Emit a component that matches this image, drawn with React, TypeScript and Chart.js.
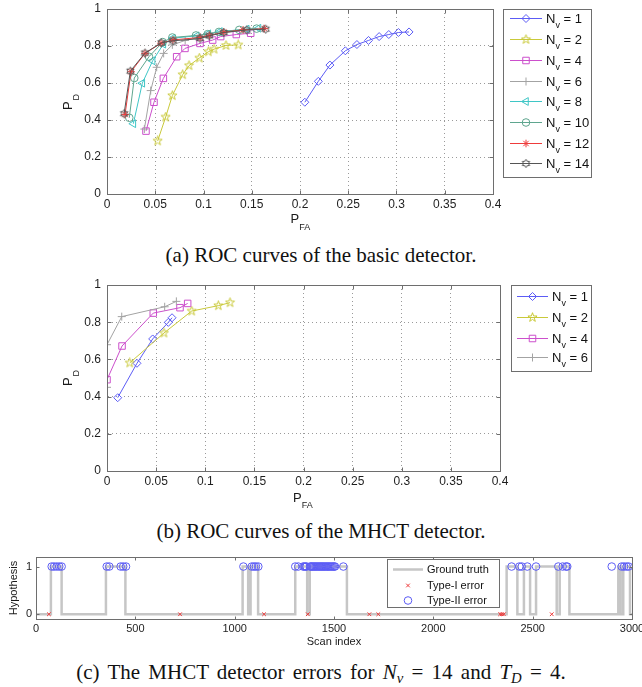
import React, { useEffect, useRef } from 'react';
import { Chart, registerables } from 'chart.js';
import { drawPoint } from 'chart.js/helpers';

Chart.register(...registerables);

const FONT = '"Liberation Sans", Arial, Helvetica, sans-serif';

// ===== (a) ROC curves of the basic detector =====
const basicNv = [1, 2, 4, 6, 8, 10, 12, 14];
const basicPfaN1 = [0.205, 0.219, 0.231, 0.247, 0.259, 0.271, 0.282, 0.292, 0.302, 0.313];
const basicPdN1 = [0.496, 0.609, 0.697, 0.774, 0.808, 0.83, 0.851, 0.862, 0.873, 0.876];
const basicPfaN2 = [0.0525, 0.0608, 0.0677, 0.0784, 0.085, 0.0957, 0.105, 0.111, 0.1233, 0.136];
const basicPdN2 = [0.287, 0.416, 0.532, 0.645, 0.694, 0.735, 0.769, 0.783, 0.803, 0.806];
const basicPfaN4 = [0.0404, 0.0487, 0.0584, 0.0722, 0.0808, 0.0964, 0.1095, 0.1178, 0.134, 0.1489];
const basicPdN4 = [0.34, 0.496, 0.625, 0.742, 0.787, 0.814, 0.832, 0.851, 0.862, 0.869];
const basicPfaN6 = [0.0387, 0.0453, 0.0515, 0.0587, 0.0677, 0.081, 0.097, 0.121, 0.145, 0.162];
const basicPdN6 = [0.351, 0.559, 0.685, 0.76, 0.806, 0.83, 0.848, 0.871, 0.887, 0.893];
const basicPfaN8 = [0.0273, 0.0366, 0.0473, 0.0584, 0.068, 0.093, 0.105, 0.117, 0.1448, 0.157];
const basicPdN8 = [0.38, 0.599, 0.72, 0.81, 0.842, 0.855, 0.866, 0.878, 0.891, 0.896];
const basicPfaN10 = [0.0231, 0.0283, 0.0435, 0.0577, 0.0677, 0.0922, 0.1043, 0.116, 0.137, 0.155];
const basicPdN10 = [0.412, 0.627, 0.742, 0.821, 0.846, 0.857, 0.864, 0.876, 0.887, 0.894];
const basicPfaN12 = [0.0187, 0.0249, 0.0394, 0.056, 0.0684, 0.0964, 0.106, 0.121, 0.141, 0.163];
const basicPdN12 = [0.43, 0.661, 0.76, 0.815, 0.833, 0.846, 0.857, 0.875, 0.887, 0.894];
const basicPfaN14 = [0.0177, 0.0242, 0.0394, 0.0563, 0.0684, 0.0964, 0.106, 0.121, 0.1448, 0.1645];
const basicPdN14 = [0.434, 0.664, 0.762, 0.817, 0.828, 0.84, 0.855, 0.873, 0.887, 0.891];

// ===== (b) ROC curves of the MHCT detector =====
const mhctNv = [1, 2, 4, 6];
const mhctPfaN1 = [0.0109, 0.0305, 0.0465, 0.0624, 0.0662];
const mhctPdN1 = [0.394, 0.579, 0.71, 0.799, 0.824];
const mhctPfaN2 = [0.0231, 0.058, 0.0862, 0.1133, 0.1252];
const mhctPdN2 = [0.581, 0.742, 0.86, 0.889, 0.905];
const mhctPfaN4 = [0, 0.0153, 0.0471, 0.0743, 0.0821];
const mhctPdN4 = [0.491, 0.672, 0.849, 0.878, 0.901];
const mhctPfaN6 = [0, 0, 0.015, 0.0587, 0.0706];
const mhctPdN6 = [0.45, 0.679, 0.83, 0.883, 0.912];

const rocXTicks = [0, 0.05, 0.1, 0.15, 0.2, 0.25, 0.3, 0.35, 0.4];
const rocYTicks = [0, 0.2, 0.4, 0.6, 0.8, 1];

// ===== (c) MHCT detector errors =====
const scanTicks = [0, 500, 1000, 1500, 2000, 2500, 3000];
const hypothesisTicks = [0, 1];
const truthScan = [0, 75, 129, 352, 450, 1040, 1068, 1080, 1118, 1305, 1365, 1378, 1565, 2369, 2423, 2456, 2487, 2517, 2621, 2636, 2685, 2931, 2943, 2956, 2990, 3000];
const truthLevel = [0, 1, 0, 1, 0, 1, 0, 1, 0, 1, 0, 1, 0, 1, 0, 1, 0, 1, 0, 1, 0, 1, 0, 1, 0, 0];
const typeIScan = [65, 725, 1148, 1368, 1678, 1723, 2336, 2345, 2355, 2596];
const typeIIScan = [79, 91, 104, 117, 129, 356, 369, 426, 439, 453, 1044, 1086, 1097, 1107, 1119, 1305, 1320,
  1345, 1351, 1357, 1362, 1380, 1385, 1390, 1396, 1401, 1407, 1412, 1418, 1424, 1430, 1436, 1441, 1447, 1452,
  1458, 1464, 1470, 1476, 1482, 1488, 1494, 1500, 1505, 1547, 2394, 2433, 2445, 2473, 2517, 2629, 2651, 2668,
  2674, 2898, 2948, 2960, 2973, 2983];

// ===== styles =====
const basicColors = ['#5c5cf5', '#c9c93a', '#cc4fcc', '#a3a3a3', '#3fc6c6', '#5fa68f', '#ee3b3b', '#555555'];
const basicMarkers = ['diamond', 'pentagram', 'square', 'plus', 'triangleLeft', 'circle', 'asterisk', 'hexagram'];
const mhctColors = ['#5c5cf5', '#c9c93a', '#cc4fcc', '#a3a3a3'];
const mhctMarkers = ['diamond', 'pentagram', 'square', 'plus'];
const BOX = '#6e6e6e';
const GRID = '#9a9a9a';

function starImage(n: number, innerRatio: number, color: string, R: number) {
  const c = document.createElement('canvas');
  c.width = 11;
  c.height = 11;
  const ctx = c.getContext('2d')!;
  ctx.strokeStyle = color;
  ctx.lineWidth = 1;
  ctx.beginPath();
  for (let k = 0; k < 2 * n; k++) {
    const a = -Math.PI / 2 + (k * Math.PI) / n;
    const rr = k % 2 === 0 ? R : R * innerRatio;
    const x = 5.5 + rr * Math.cos(a);
    const y = 5.5 + rr * Math.sin(a);
    if (k === 0) ctx.moveTo(x, y);
    else ctx.lineTo(x, y);
  }
  ctx.closePath();
  ctx.stroke();
  return c;
}

function marker(name: string, color: string): any {
  switch (name) {
    case 'diamond': return { pointStyle: 'rectRot', rotation: 0, radius: 4 };
    case 'pentagram': return { pointStyle: starImage(5, 0.4, color, 4.8), rotation: 0, radius: 4 };
    case 'hexagram': return { pointStyle: starImage(6, 0.58, color, 4.2), rotation: 0, radius: 4 };
    case 'square': return { pointStyle: 'rect', rotation: 0, radius: 4.6 };
    case 'plus': return { pointStyle: 'cross', rotation: 0, radius: 4 };
    case 'triangleLeft': return { pointStyle: 'triangle', rotation: -90, radius: 4.5 };
    case 'circle': return { pointStyle: 'circle', rotation: 0, radius: 3.8 };
    case 'asterisk': return { pointStyle: 'star', rotation: 0, radius: 3.8 };
    case 'x': return { pointStyle: 'crossRot', rotation: 0, radius: 2.6 };
    default: return { pointStyle: 'circle', rotation: 0, radius: 3 };
  }
}

function pairs(xs: number[], ys: number[]) {
  return xs.map((x, i) => ({ x, y: ys[i] }));
}

function fmt(v: number) {
  return String(+Number(v).toFixed(2));
}

type TitleSpec = { x: number; y: number; rot: boolean; main: string; sub?: string; size: number; subSize?: number; subDx?: number; subDy?: number; align?: CanvasTextAlign };
type LegendRow = { label: string; sub?: string; rest?: string; color: string; line: boolean; lineWidth?: number; mk?: any };
type LegendSpec = { x0: number; y0: number; x1: number; y1: number; rows: LegendRow[]; rowY: number[]; lineX1: number; lineX2: number; markX: number; textX: number; size: number; subSize: number };

function makeDecor(cfg: { xTicks: number[]; yTicks: number[]; titles: TitleSpec[]; legend: LegendSpec; tickLen: number }) {
  return {
    id: 'decor',
    afterDraw(chart: any) {
      const ctx: CanvasRenderingContext2D = chart.ctx;
      const a = chart.chartArea;
      const xs = chart.scales.x;
      const ys = chart.scales.y;
      ctx.save();
      ctx.setLineDash([]);
      ctx.strokeStyle = BOX;
      ctx.lineWidth = 1;
      const L = Math.round(a.left) + 0.5, T = Math.round(a.top) + 0.5, R = Math.round(a.right) + 0.5, B = Math.round(a.bottom) + 0.5;
      ctx.strokeRect(L, T, R - L, B - T);
      ctx.beginPath();
      for (const t of cfg.xTicks) {
        const px = Math.round(xs.getPixelForValue(t)) + 0.5;
        ctx.moveTo(px, B); ctx.lineTo(px, B - cfg.tickLen);
        ctx.moveTo(px, T); ctx.lineTo(px, T + cfg.tickLen);
      }
      for (const t of cfg.yTicks) {
        const py = Math.round(ys.getPixelForValue(t)) + 0.5;
        ctx.moveTo(L, py); ctx.lineTo(L + cfg.tickLen, py);
        ctx.moveTo(R, py); ctx.lineTo(R - cfg.tickLen, py);
      }
      ctx.stroke();

      // axis titles
      ctx.fillStyle = '#1a1a1a';
      ctx.textBaseline = 'alphabetic';
      for (const t of cfg.titles) {
        ctx.save();
        ctx.translate(t.x, t.y);
        if (t.rot) ctx.rotate(-Math.PI / 2);
        ctx.textAlign = t.align || 'left';
        ctx.font = `${t.size}px ${FONT}`;
        ctx.fillText(t.main, 0, 0);
        if (t.sub) {
          ctx.font = `${t.subSize}px ${FONT}`;
          ctx.textAlign = 'left';
          ctx.fillText(t.sub, t.subDx || 0, t.subDy || 0);
        }
        ctx.restore();
      }

      // legend
      const lg = cfg.legend;
      ctx.fillStyle = '#ffffff';
      ctx.fillRect(lg.x0, lg.y0, lg.x1 - lg.x0, lg.y1 - lg.y0);
      ctx.strokeStyle = BOX;
      ctx.lineWidth = 1;
      ctx.strokeRect(lg.x0 + 0.5, lg.y0 + 0.5, lg.x1 - lg.x0, lg.y1 - lg.y0);
      lg.rows.forEach((row, i) => {
        const y = lg.rowY[i];
        ctx.strokeStyle = row.color;
        if (row.line) {
          ctx.lineWidth = row.lineWidth || 1;
          ctx.beginPath();
          ctx.moveTo(lg.lineX1, y + 0.5);
          ctx.lineTo(lg.lineX2, y + 0.5);
          ctx.stroke();
        }
        if (row.mk) {
          ctx.lineWidth = 1;
          ctx.fillStyle = 'rgba(0,0,0,0)';
          drawPoint(ctx, { pointStyle: row.mk.pointStyle, rotation: row.mk.rotation, radius: row.mk.radius, borderWidth: 1 } as any, lg.markX, y + 0.5);
        }
        ctx.fillStyle = '#111111';
        ctx.textAlign = 'left';
        ctx.textBaseline = 'alphabetic';
        let x = lg.textX;
        const base = y + Math.round(lg.size * 0.36);
        ctx.font = `${lg.size}px ${FONT}`;
        ctx.fillText(row.label, x, base);
        x += ctx.measureText(row.label).width;
        if (row.sub) {
          ctx.font = `${lg.subSize}px ${FONT}`;
          ctx.fillText(row.sub, x, base + 5);
          x += ctx.measureText(row.sub).width;
        }
        if (row.rest) {
          ctx.font = `${lg.size}px ${FONT}`;
          ctx.fillText(row.rest, x, base);
        }
      });
      ctx.restore();
    },
  };
}

function rocConfig(opts: {
  nv: number[]; pfa: number[][]; pd: number[][]; colors: string[]; markers: string[];
  height: number; top: number; bottom: number; left: number; right: number;
  titles: TitleSpec[]; legendBox: number[]; rowY: number[]; lineX: number[]; textX: number;
}) {
  const mks = opts.markers.map((m, i) => marker(m, opts.colors[i]));
  const datasets = opts.nv.map((n, i) => ({
    label: `N_v = ${n}`,
    data: pairs(opts.pfa[i], opts.pd[i]),
    showLine: true,
    borderColor: opts.colors[i],
    borderWidth: 1,
    pointStyle: mks[i].pointStyle,
    pointRotation: mks[i].rotation,
    pointRadius: mks[i].radius,
    pointBorderColor: opts.colors[i],
    pointBackgroundColor: 'rgba(0,0,0,0)',
    pointBorderWidth: 1,
    order: -i,
  }));
  const legend: LegendSpec = {
    x0: opts.legendBox[0], y0: opts.legendBox[1], x1: opts.legendBox[2], y1: opts.legendBox[3],
    rows: opts.nv.map((n, i) => ({ label: 'N', sub: 'v', rest: ` = ${n}`, color: opts.colors[i], line: true, mk: mks[i] })),
    rowY: opts.rowY, lineX1: opts.lineX[0], lineX2: opts.lineX[1], markX: (opts.lineX[0] + opts.lineX[1]) / 2,
    textX: opts.textX, size: 13, subSize: 9,
  };
  return {
    type: 'scatter',
    data: { datasets },
    options: {
      animation: false,
      responsive: false,
      maintainAspectRatio: false,
      events: [],
      layout: { padding: { left: 0, top: opts.top, right: 642 - opts.right, bottom: 0 } },
      plugins: { legend: { display: false }, tooltip: { enabled: false } },
      scales: {
        x: {
          type: 'linear', min: 0, max: 0.4,
          afterBuildTicks: (s: any) => { s.ticks = rocXTicks.map((v) => ({ value: v })); },
          afterFit: (s: any) => { s.height = opts.height - opts.bottom; s.paddingLeft = 0; s.paddingRight = 0; },
          ticks: { callback: (v: any) => fmt(v), font: { family: FONT, size: 12 }, color: '#1e1e1e', padding: 3, maxRotation: 0, autoSkip: false },
          grid: { color: GRID, lineWidth: 1, drawTicks: false },
          border: { display: true, color: BOX, dash: [1, 3] },
        },
        y: {
          type: 'linear', min: 0, max: 1,
          afterBuildTicks: (s: any) => { s.ticks = rocYTicks.map((v) => ({ value: v })); },
          afterFit: (s: any) => { s.width = opts.left; s.paddingTop = 0; s.paddingBottom = 0; },
          ticks: { callback: (v: any) => fmt(v), font: { family: FONT, size: 12 }, color: '#1e1e1e', padding: 6, autoSkip: false },
          grid: { color: GRID, lineWidth: 1, drawTicks: false },
          border: { display: true, color: BOX, dash: [1, 3] },
        },
      },
    },
    plugins: [makeDecor({ xTicks: rocXTicks, yTicks: rocYTicks, titles: opts.titles, legend, tickLen: 4 })],
  };
}

function buildA() {
  return rocConfig({
    nv: basicNv,
    pfa: [basicPfaN1, basicPfaN2, basicPfaN4, basicPfaN6, basicPfaN8, basicPfaN10, basicPfaN12, basicPfaN14],
    pd: [basicPdN1, basicPdN2, basicPdN4, basicPdN6, basicPdN8, basicPdN10, basicPdN12, basicPdN14],
    colors: basicColors, markers: basicMarkers,
    height: 240, top: 9, bottom: 194, left: 107, right: 493,
    titles: [
      { x: 72, y: 110, rot: true, main: 'P', sub: 'D', size: 13, subSize: 9, subDx: 9.5, subDy: 7 },
      { x: 290.5, y: 223, rot: false, main: 'P', sub: 'FA', size: 13, subSize: 9, subDx: 8.7, subDy: 7 },
    ],
    legendBox: [503, 9, 591, 177],
    rowY: [18, 39, 60, 81, 101, 122, 143, 163],
    lineX: [510, 542],
    textX: 546,
  });
}

function buildB() {
  const off = 276;
  return rocConfig({
    nv: mhctNv,
    pfa: [mhctPfaN1, mhctPfaN2, mhctPfaN4, mhctPfaN6],
    pd: [mhctPdN1, mhctPdN2, mhctPdN4, mhctPdN6],
    colors: mhctColors, markers: mhctMarkers,
    height: 234, top: 285 - off, bottom: 471 - off, left: 107, right: 500,
    titles: [
      { x: 72, y: 386 - off, rot: true, main: 'P', sub: 'D', size: 13, subSize: 9, subDx: 9.5, subDy: 7 },
      { x: 293, y: 502 - off, rot: false, main: 'P', sub: 'FA', size: 13, subSize: 9, subDx: 8.7, subDy: 6 },
    ],
    legendBox: [511, 285 - off, 591, 371 - off],
    rowY: [296 - off, 317 - off, 338 - off, 357 - off],
    lineX: [517, 548],
    textX: 552,
  });
}

function buildC() {
  const off = 545;
  const H = 105;
  const plotTop = 557 - off;
  const plotBottom = 619 - off;
  const gtColor = '#c6c6c6';
  const red = '#ee3b3b';
  const blue = '#5c5cf5';
  const mkI = marker('x', red);
  const mkII = marker('circle', blue);
  const legend: LegendSpec = {
    x0: 387, y0: 559 - off, x1: 499, y1: 607 - off,
    rows: [
      { label: 'Ground truth', color: gtColor, line: true, lineWidth: 2.5 },
      { label: 'Type-I error', color: red, line: false, mk: mkI },
      { label: 'Type-II error', color: blue, line: false, mk: mkII },
    ],
    rowY: [569 - off, 585 - off, 600 - off],
    lineX1: 393, lineX2: 423, markX: 408, textX: 427, size: 11, subSize: 8,
  };
  return {
    type: 'scatter',
    data: {
      datasets: [
        {
          label: 'Type-I error',
          data: typeIScan.map((s) => ({ x: s, y: 0 })),
          showLine: false,
          pointStyle: mkI.pointStyle, pointRadius: mkI.radius,
          pointBorderColor: red, pointBackgroundColor: 'rgba(0,0,0,0)', pointBorderWidth: 1,
          order: 1,
        },
        {
          label: 'Type-II error',
          data: typeIIScan.map((s) => ({ x: s, y: 1 })),
          showLine: false,
          pointStyle: mkII.pointStyle, pointRadius: mkII.radius,
          pointBorderColor: blue, pointBackgroundColor: 'rgba(0,0,0,0)', pointBorderWidth: 1,
          order: 2,
        },
        {
          label: 'Ground truth',
          data: pairs(truthScan, truthLevel),
          showLine: true,
          stepped: 'before',
          borderColor: gtColor,
          borderWidth: 2.5,
          pointRadius: 0,
          order: 3,
        },
      ],
    },
    options: {
      animation: false,
      responsive: false,
      maintainAspectRatio: false,
      events: [],
      layout: { padding: { left: 0, top: plotTop, right: 642 - 632, bottom: 0 } },
      plugins: { legend: { display: false }, tooltip: { enabled: false } },
      scales: {
        x: {
          type: 'linear', min: 0, max: 3000,
          afterBuildTicks: (s: any) => { s.ticks = scanTicks.map((v) => ({ value: v })); },
          afterFit: (s: any) => { s.height = H - plotBottom; s.paddingLeft = 0; s.paddingRight = 0; },
          ticks: { font: { family: FONT, size: 11 }, color: '#1e1e1e', padding: 3, maxRotation: 0, autoSkip: false, callback: (v: any) => String(v) },
          grid: { display: false, drawTicks: false },
          border: { display: true, color: BOX },
        },
        y: {
          type: 'linear', min: -0.1, max: 1.2,
          afterBuildTicks: (s: any) => { s.ticks = hypothesisTicks.map((v) => ({ value: v })); },
          afterFit: (s: any) => { s.width = 36; s.paddingTop = 0; s.paddingBottom = 0; },
          ticks: { font: { family: FONT, size: 11 }, color: '#1e1e1e', padding: 4, autoSkip: false, callback: (v: any) => String(v) },
          grid: { display: false, drawTicks: false },
          border: { display: true, color: BOX },
        },
      },
    },
    plugins: [makeDecor({
      xTicks: scanTicks, yTicks: hypothesisTicks, tickLen: 3,
      titles: [
        { x: 16.5, y: 588 - off, rot: true, main: 'Hypothesis', size: 11, align: 'center' },
        { x: 334, y: 645 - off, rot: false, main: 'Scan index', size: 11, align: 'center' },
      ],
      legend,
    })],
  };
}

function ChartCanvas({ top, height, build }: { top: number; height: number; build: () => any }) {
  const ref = useRef<HTMLCanvasElement | null>(null);
  useEffect(() => {
    const chart = new Chart(ref.current as HTMLCanvasElement, build());
    return () => chart.destroy();
  }, []);
  return (
    <canvas
      ref={ref}
      width={642}
      height={height}
      style={{ position: 'absolute', left: 0, top, width: 642, height, display: 'block' }}
    />
  );
}

function Caption({ top, children, spacing }: { top: number; children: any; spacing?: number }) {
  return (
    <div
      style={{
        position: 'absolute', left: 0, top, width: 642, textAlign: 'center',
        fontFamily: '"Liberation Serif", "Times New Roman", serif', fontSize: 21, lineHeight: '21px',
        color: '#111', whiteSpace: 'nowrap', wordSpacing: spacing ? `${spacing}px` : undefined,
      }}
    >
      {children}
    </div>
  );
}

const subStyle: React.CSSProperties = { fontSize: '0.7em', position: 'relative', top: '0.3em', fontStyle: 'italic' };

export default function App() {
  return (
    <div style={{ position: 'absolute', left: 0, top: 0, width: 642, height: 687, overflow: 'hidden', background: '#fff' }}>
      <ChartCanvas top={0} height={240} build={buildA} />
      <Caption top={245}>(a) ROC curves of the basic detector.</Caption>
      <ChartCanvas top={276} height={234} build={buildB} />
      <Caption top={521}>(b) ROC curves of the MHCT detector.</Caption>
      <ChartCanvas top={545} height={105} build={buildC} />
      <Caption top={662} spacing={3}>
        (c) The MHCT detector errors for <i>N</i><span style={subStyle}>v</span> = 14 and <i>T</i><span style={subStyle}>D</span> = 4.
      </Caption>
    </div>
  );
}
